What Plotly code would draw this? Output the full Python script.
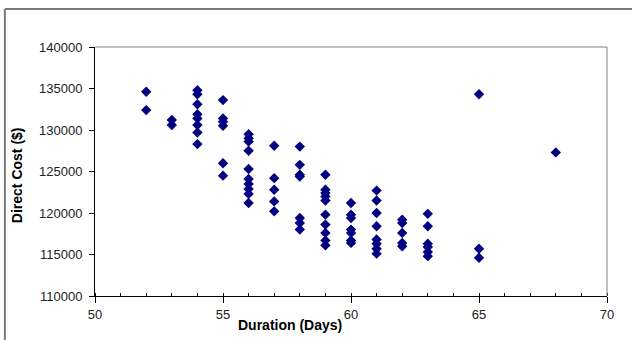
import plotly.graph_objects as go

# Project schedule options: duration in days vs. direct cost in dollars
duration_days = (
    [52] * 2
    + [53] * 2
    + [54] * 8
    + [55] * 6
    + [56] * 10
    + [57] * 5
    + [58] * 7
    + [59] * 10
    + [60] * 7
    + [61] * 8
    + [62] * 5
    + [63] * 6
    + [65] * 3
    + [68] * 1
)

direct_cost = [
    134600, 132400,
    131200, 130600,
    134800, 134300, 133100, 131900, 131400, 130600, 129700, 128300,
    133600, 131400, 131000, 130500, 126000, 124500,
    129500, 129000, 128600, 127500, 125300, 124100, 123500, 122900, 122300, 121200,
    128100, 124200, 122800, 121400, 120200,
    128000, 125800, 124600, 124400, 119400, 118800, 118000,
    124600, 122800, 122400, 122000, 121500, 119800, 118600, 117600, 116700, 116100,
    121200, 119800, 119400, 118000, 117600, 116700, 116400,
    122700, 121500, 120000, 118400, 116800, 116300, 115700, 115100,
    119200, 118800, 117600, 116400, 116000,
    119900, 118400, 116300, 115900, 115300, 114800,
    134300, 115700, 114600,
    127300,
]

x_tick_values = [50, 55, 60, 65, 70]
y_tick_values = [110000, 115000, 120000, 125000, 130000, 135000, 140000]
y_tick_labels = [str(v) for v in y_tick_values]

FONT = "Liberation Sans, Arial, sans-serif"

fig = go.Figure(
    go.Scatter(
        x=duration_days,
        y=direct_cost,
        mode="markers",
        marker=dict(symbol="diamond", size=8, color="#000080",
                    line=dict(width=0)),
        hoverinfo="x+y",
    )
)

fig.update_layout(
    width=632,
    height=340,
    margin=dict(l=95, r=25, t=47, b=44),
    paper_bgcolor="white",
    plot_bgcolor="rgba(0,0,0,0)",
    showlegend=False,
    font=dict(family=FONT, size=13, color="black"),
)

fig.update_xaxes(
    range=[50, 70],
    tickvals=x_tick_values,
    ticks="outside",
    ticklen=6,
    tickcolor="black",
    minor=dict(dtick=1, ticks="inside", ticklen=3, tickcolor="black"),
    showline=True,
    linecolor="black",
    linewidth=1,
    showgrid=False,
    zeroline=False,
    tickfont=dict(size=13, color="#222"),
)

fig.update_yaxes(
    range=[110000, 140000],
    tickvals=y_tick_values,
    ticktext=y_tick_labels,
    ticks="outside",
    ticklen=5,
    tickcolor="black",
    ticklabelstandoff=4,
    showline=True,
    linecolor="black",
    linewidth=1,
    showgrid=False,
    zeroline=False,
    tickfont=dict(size=13, color="#222"),
)

# Light plot-area frame on the top and right edges
fig.add_shape(type="line", xref="paper", yref="paper", x0=0, y0=1, x1=1, y1=1,
              line=dict(color="#808080", width=1))
fig.add_shape(type="line", xref="paper", yref="paper", x0=1, y0=0, x1=1, y1=1,
              line=dict(color="#808080", width=1))

# Outer chart border (top and left edges fall inside the page)
fig.add_shape(type="line", xref="paper", yref="paper",
              x0=-0.176, y0=1.153, x1=1.07, y1=1.153,
              line=dict(color="#7a7a7a", width=2))
fig.add_shape(type="line", xref="paper", yref="paper",
              x0=-0.176, y0=-0.2, x1=-0.176, y1=1.153,
              line=dict(color="#7a7a7a", width=2))

# Axis titles
fig.add_annotation(text="<b>Duration (Days)</b>", xref="paper", yref="paper",
                   x=0.38, y=-0.116, xanchor="center", yanchor="middle",
                   showarrow=False, font=dict(family=FONT, size=14))
fig.add_annotation(text="<b>Direct Cost ($)</b>", xref="paper", yref="paper",
                   x=-0.152, y=0.486, xanchor="center", yanchor="middle",
                   textangle=-90, showarrow=False,
                   font=dict(family=FONT, size=14))

fig.write_html("out.html")
